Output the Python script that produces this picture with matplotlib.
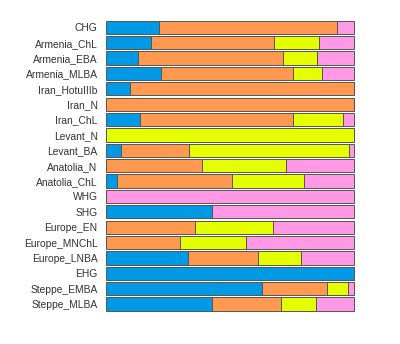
import numpy as np
import matplotlib.pyplot as plt

groups = ["CHG", "Armenia_ChL", "Armenia_EBA", "Armenia_MLBA", "Iran_HotuIIIb",
          "Iran_N", "Iran_ChL", "Levant_N", "Levant_BA", "Anatolia_N",
          "Anatolia_ChL", "WHG", "SHG", "Europe_EN", "Europe_MNChL",
          "Europe_LNBA", "EHG", "Steppe_EMBA", "Steppe_MLBA"]

blue = [0.214, 0.183, 0.128, 0.223, 0.095, 0.0, 0.137, 0.0, 0.059, 0.0,
        0.043, 0.0, 0.427, 0.0, 0.0, 0.331, 1.0, 0.628, 0.427]
orange = [0.716, 0.493, 0.586, 0.530, 0.905, 1.0, 0.618, 0.0, 0.274, 0.386,
          0.465, 0.0, 0.0, 0.359, 0.300, 0.283, 0.0, 0.262, 0.277]
yellow = [0.0, 0.182, 0.135, 0.117, 0.0, 0.0, 0.199, 1.0, 0.645, 0.338,
          0.292, 0.0, 0.0, 0.314, 0.266, 0.172, 0.0, 0.087, 0.144]
pink = [0.070, 0.142, 0.151, 0.130, 0.0, 0.0, 0.046, 0.0, 0.022, 0.276,
        0.200, 1.0, 0.573, 0.327, 0.434, 0.214, 0.0, 0.023, 0.152]

colors = ["#0099E6", "#FF9950", "#E6FF00", "#FF99E6"]

plt.rcParams['font.family'] = ['Liberation Sans', 'DejaVu Sans']

fig = plt.figure(figsize=(4, 3.44), dpi=100)
h = 0.865
ax = fig.add_axes([106 / 400, 1 - 310.7 / 344, 248 / 400, 290 / 344])

y = np.arange(len(groups))
left = np.zeros(len(groups))
for vals, c in zip([blue, orange, yellow, pink], colors):
    vals = np.array(vals)
    bars = ax.barh(y, vals, left=left, height=h, color=c,
                   edgecolor="#555555", linewidth=0.7)
    for b in bars:
        b.set_clip_on(False)
    left += vals

ax.set_xlim(0, 1)
ax.set_ylim(len(groups) - 1 + h / 2, -h / 2)
ax.set_yticks(y)
ax.set_yticklabels(groups, fontsize=7.4, color="#333333")
ax.tick_params(axis="y", length=0, pad=6)
ax.set_xticks([])
for s in ax.spines.values():
    s.set_visible(False)

fig.savefig("out.png", dpi=100)
